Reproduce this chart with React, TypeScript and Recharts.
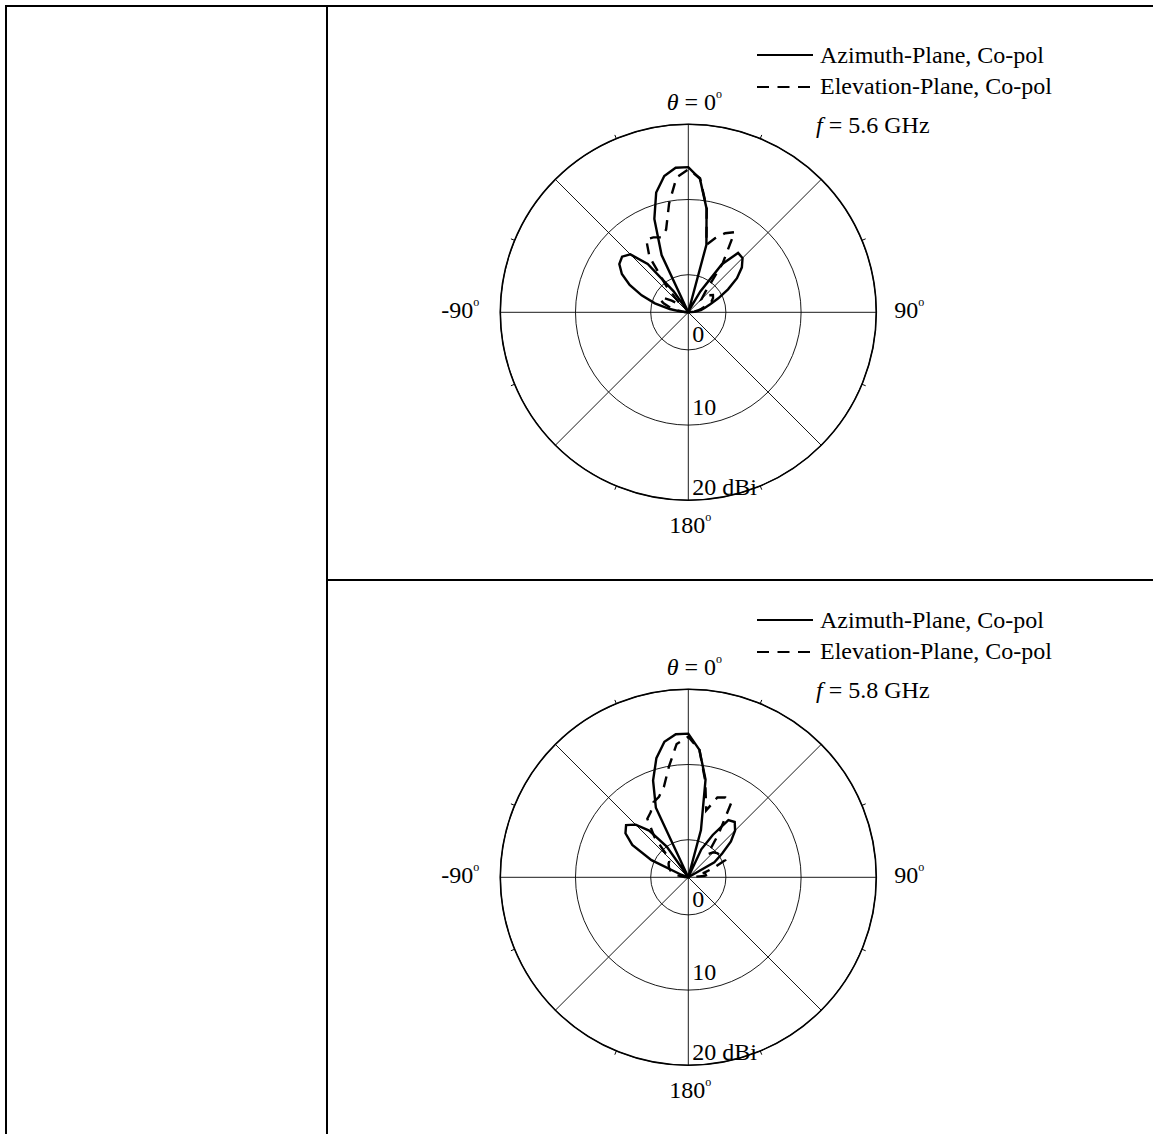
import React from 'react';
import { RadarChart, Radar, PolarGrid, PolarAngleAxis, PolarRadiusAxis } from 'recharts';

// Angle categories (degrees, 0 = boresight at top, clockwise positive)
const ANGLES = [
  -180, -175, -170, -165, -160, -155, -150, -145, -140, -135,
  -130, -125, -120, -115, -110, -105, -100, -95, -90, -85,
  -80, -75, -70, -65, -60, -55, -50, -45, -40, -35,
  -30, -25, -20, -15, -10, -5, 0, 5, 10, 15,
  20, 25, 30, 35, 40, 45, 50, 55, 60, 65,
  70, 75, 80, 85, 90, 95, 100, 105, 110, 115,
  120, 125, 130, 135, 140, 145, 150, 155, 160, 165,
  170, 175,
];

// Gain in dBi (-5 = centre of the plot, null = no trace)
const AZ_56 = [
  -5, -5, -5, -5, -5, -5, -5, -5, -5, -5,
  -5, -5, -5, -5, -5, -5, -5, -5, -5, -4.0,
  -2.5, -0.4, 1.6, 3.6, 5.2, 6.2, 6.5, 5.9, 3.4, -1.6,
  null, 3.4, 8.2, 11.5, 13.4, 14.3, 14.3, 12.8, 9.0, 4.3,
  null, -4.5, -1.8, 2.8, 5.3, 5.2, 4.3, 2.9, 1.1, -0.6,
  -1.9, -2.7, -3.3, -4.2, -5, -5, -5, -5, -5, -5,
  -5, -5, -5, -5, -5, -5, -5, -5, -5, -5,
  -5, -5,
];
const EL_56 = [
  -5, -5, -5, -5, -5, -5, -5, -5, -5, -5,
  -5, -5, -5, -5, -5, -5, -5, -5, -5, -4.5,
  -3.5, -2.5, -1.5, -0.8, -1.2, -2.3, -3.3, -3.5, -0.5, 4.0,
  6.2, 6.0, 5.6, 6.4, 9.7, 13.0, 14.0, 12.9, 9.1, 4.3,
  5.5, 6.6, 7.3, 3.0, -1.5, -2.5, -1.5, -1.0, -1.2, -1.6,
  -2.5, -3.2, -3.8, -4.4, -5, -5, -5, -5, -5, -5,
  -5, -5, -5, -5, -5, -5, -5, -5, -5, -5,
  -5, -5,
];
const AZ_58 = [
  -5, -5, -5, -5, -5, -5, -5, -5, -5, -5,
  -5, -5, -5, -5, -5, -5, -5, -5, -5, -5,
  -5, -5, -4.0, 0.4, 3.6, 5.2, 5.8, 4.9, 3.1, 0.0,
  -5, 5.2, 8.7, 11.4, 13.3, 14.1, 14.1, 12.0, 8.2, 1.5,
  null, -0.9, 1.5, 4.3, 4.6, 3.8, 2.4, 0.5, -1.0, null,
  -5, -5, -5, -5, -5, -5, -5, -5, -5, -5,
  -5, -5, -5, -5, -5, -5, -5, -5, -5, -5,
  -5, -5,
];
const EL_58 = [
  -5, -5, -5, -5, -5, -5, -5, -5, -5, -5,
  -5, -5, -5, -5, -5, -5, -5, -5, -5, -4.5,
  -3.5, -2.8, -2.5, -2.2, -2.0, -1.8, -1.7, -1.2, 2.0, 4.5,
  5.0, 6.0, 6.4, 7.5, 9.9, 12.8, 13.7, 12.0, 8.0, 4.2,
  6.3, 6.7, 6.4, 2.0, -1.0, -0.3, 0.0, 0.2, 0.3, 0.4,
  -1.5, -3.0, -2.0, -2.8, -5, -5, -5, -5, -5, -5,
  -5, -5, -5, -5, -5, -5, -5, -5, -5, -5,
  -5, -5,
];

const RADIUS_DOMAIN = [-5, 20];
const RADIUS_TICKS = [0, 10, 20];
const MAJOR_ANGLE_TICKS = [-180, -135, -90, -45, 0, 45, 90, 135];
const MINOR_ANGLE_TICKS = [-157.5, -112.5, -67.5, -22.5, 22.5, 67.5, 112.5, 157.5];
const SERIES_NAMES = ['Azimuth-Plane, Co-pol', 'Elevation-Plane, Co-pol'];
const FREQUENCIES = ['5.6', '5.8'];

const FONT = '"Liberation Serif", "Times New Roman", serif';
const FS = 24;

const buildRows = (az: (number | null)[], el: (number | null)[]) =>
  ANGLES.map((a, i) => ({ angle: a, az: az[i], el: el[i] }));

const Sup = () => (
  <tspan dy={-12} fontSize={12}>o</tspan>
);

const AngleTick = (props: any) => {
  const { x, y, payload } = props;
  const v = payload && payload.value;
  const common = { fontFamily: FONT, fontSize: FS, fill: '#000' };
  if (v === 0) {
    return (
      <text x={x + 6} y={y - 6} textAnchor="middle" {...common}>
        <tspan fontStyle="italic">θ</tspan> = 0<Sup />
      </text>
    );
  }
  if (v === 90) {
    return (
      <text x={x + 10} y={y + 6} textAnchor="start" {...common}>
        90<Sup />
      </text>
    );
  }
  if (v === -90) {
    return (
      <text x={x - 13} y={y + 6} textAnchor="end" {...common}>
        -90<Sup />
      </text>
    );
  }
  if (v === -180 || v === 180) {
    return (
      <text x={x + 2} y={y + 25} textAnchor="middle" {...common}>
        180<Sup />
      </text>
    );
  }
  return <g />;
};

const RADIUS_LABEL_DY: Record<number, number> = { 0: -8, 10: -10, 20: -5 };

const RadiusTick = (props: any) => {
  const { x, y, payload } = props;
  const v = payload && payload.value;
  const label = v === 20 ? '20 dBi' : String(v);
  return (
    <text x={x + 4} y={y + (RADIUS_LABEL_DY[v] ?? -8)} textAnchor="start" fontFamily={FONT} fontSize={FS} fill="#000">
      {label}
    </text>
  );
};

const PANEL_LEFT = 330;
const PANEL_W = 823;

const PolarPanel = ({ top, height, az, el, freq }: any) => {
  const rows = buildRows(az, el);
  return (
    <div style={{ position: 'absolute', left: PANEL_LEFT, top, width: PANEL_W, height }}>
      <RadarChart
        width={PANEL_W}
        height={height}
        cx={358.3}
        cy={312.3}
        innerRadius={0}
        outerRadius={188}
        startAngle={-90}
        endAngle={-450}
        data={rows}
        margin={{ top: 0, right: 0, bottom: 0, left: 0 }}
      >
        <PolarGrid gridType="circle" stroke="#000" strokeWidth={0.9} strokeOpacity={1} />
        <PolarAngleAxis
          dataKey="angle"
          type="number"
          domain={[-180, 180]}
          ticks={MAJOR_ANGLE_TICKS}
          axisLineType="circle"
          axisLine={{ stroke: '#000', strokeWidth: 1.6 }}
          tickLine={false}
          tickSize={0}
          tick={(p: any) => <AngleTick {...p} />}
        />
        <PolarAngleAxis
          angleAxisId="minor"
          dataKey="angle"
          type="number"
          domain={[-180, 180]}
          ticks={MINOR_ANGLE_TICKS}
          axisLine={false}
          orientation="outer"
          tickSize={4}
          tickLine={{ stroke: '#000', strokeWidth: 1 }}
          tick={false}
        />
        <PolarRadiusAxis
          type="number"
          domain={RADIUS_DOMAIN}
          ticks={RADIUS_TICKS}
          angle={-90}
          axisLine={false}
          tickLine={false}
          tick={(p: any) => <RadiusTick {...p} />}
        />
        <Radar
          name={SERIES_NAMES[0]}
          dataKey="az"
          stroke="#000"
          strokeWidth={2.4}
          fill="none"
          fillOpacity={0}
          dot={false}
          isAnimationActive={false}
        />
        <Radar
          name={SERIES_NAMES[1]}
          dataKey="el"
          stroke="#000"
          strokeWidth={2.4}
          strokeDasharray="11 8"
          fill="none"
          fillOpacity={0}
          dot={false}
          isAnimationActive={false}
        />
      </RadarChart>
      <svg
        width={PANEL_W}
        height={160}
        style={{ position: 'absolute', left: 0, top: 0, pointerEvents: 'none' }}
      >
        <line x1={427} y1={55} x2={483} y2={55} stroke="#000" strokeWidth={2} />
        <text x={490} y={63} fontFamily={FONT} fontSize={FS} fill="#000">{SERIES_NAMES[0]}</text>
        <line x1={427} y1={87} x2={481} y2={87} stroke="#000" strokeWidth={2} strokeDasharray="12 8.5" />
        <text x={490} y={94} fontFamily={FONT} fontSize={FS} fill="#000">{SERIES_NAMES[1]}</text>
        <text x={486} y={133} fontFamily={FONT} fontSize={FS} fill="#000">
          <tspan fontStyle="italic">f</tspan> = {freq} GHz
        </text>
      </svg>
    </div>
  );
};

export default function App() {
  const line = (l: number, t: number, w: number, h: number) => (
    <div style={{ position: 'absolute', left: l, top: t, width: w, height: h, background: '#000' }} />
  );
  return (
    <div style={{ position: 'absolute', left: 0, top: 0, width: 1153, height: 1134, background: '#fff', overflow: 'hidden' }}>
      {line(5, 5, 1148, 2)}
      {line(5, 5, 2, 1129)}
      {line(326, 5, 2, 1129)}
      {line(326, 579, 827, 2)}
      <PolarPanel top={0} height={566} az={AZ_56} el={EL_56} freq={FREQUENCIES[0]} />
      <PolarPanel top={565.4} height={568} az={AZ_58} el={EL_58} freq={FREQUENCIES[1]} />
    </div>
  );
}
